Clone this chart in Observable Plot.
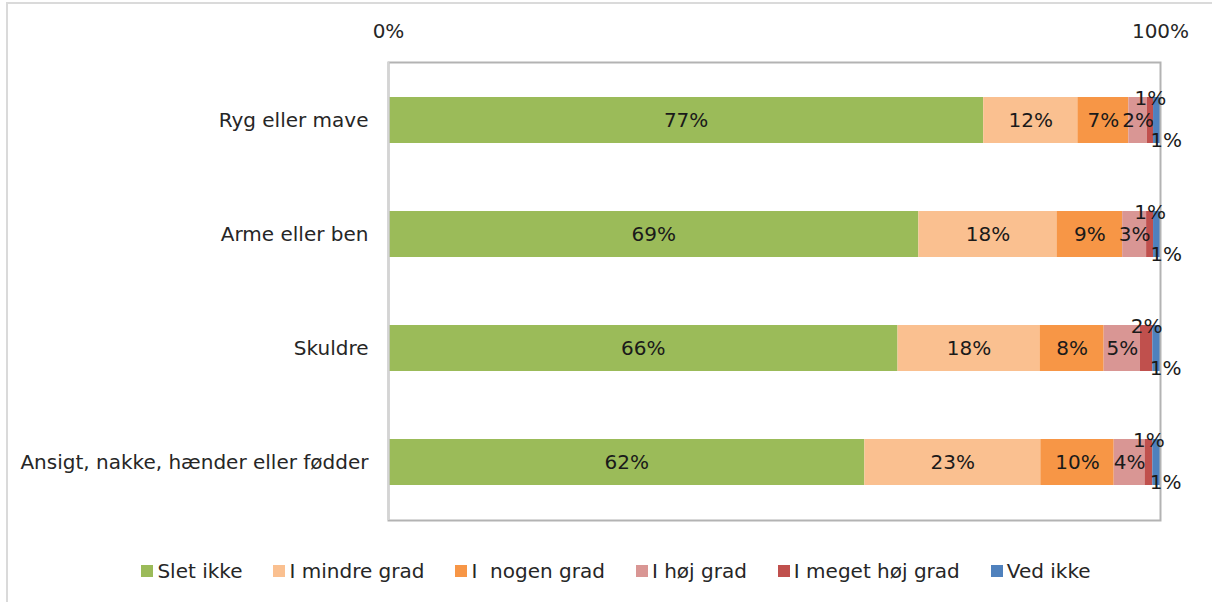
<!DOCTYPE html>
<html>
<head>
<meta charset="utf-8">
<script src="https://cdn.jsdelivr.net/npm/d3@7"></script>
<script src="https://cdn.jsdelivr.net/npm/@observablehq/plot@0.6"></script>
<style>
  html, body { margin: 0; padding: 0; background: #fff; }
  body { width: 1212px; height: 602px; overflow: hidden; position: relative; font-family: "DejaVu Sans", sans-serif; }
  #border { position: absolute; left: 6px; top: 2px; width: 1300px; height: 700px; border-left: 2px solid #dadada; border-top: 2px solid #dadada; }
  #chart { position: absolute; left: 0; top: 0; }
  #legend { position: absolute; left: 0; top: 559px; width: 1232px; display: flex; justify-content: center; gap: 31px; font-size: 20px; color: #262626; }
  .item { display: flex; align-items: center; gap: 4px; white-space: pre; }
  .sw { width: 12px; height: 12px; display: inline-block; }
</style>
</head>
<body>
<div id="border"></div>
<div id="chart"></div>
<div id="legend"></div>
<script>
const categories = ["Ryg eller mave", "Arme eller ben", "Skuldre", "Ansigt, nakke, hænder eller fødder"];
const series = ["Slet ikke", "I mindre grad", "I  nogen grad", "I høj grad", "I meget høj grad", "Ved ikke"];
const colors = ["#9bbb59", "#fac090", "#f79646", "#d99694", "#c0504d", "#4f81bd"];
// percentages per category, in series order
const rygEllerMave = [77.1, 12.2, 6.6, 2.4, 0.8, 0.9];
const armeEllerBen = [68.7, 17.9, 8.5, 3.1, 0.9, 0.9];
const skuldre = [66.0, 18.4, 8.3, 4.7, 1.6, 1.0];
const ansigtEtc = [61.7, 22.8, 9.5, 4.0, 1.0, 1.0];
const xTicks = [0, 100];

const rows = [rygEllerMave, armeEllerBen, skuldre, ansigtEtc];
const data = [];
rows.forEach((vals, i) => vals.forEach((v, j) => data.push({cat: categories[i], series: series[j], idx: j, value: v})));
const fmt = v => Math.round(v) + "%";

const chart = Plot.plot({
  width: 1212,
  height: 545,
  marginLeft: 388,
  marginRight: 52,
  marginTop: 62,
  marginBottom: 25,
  style: {fontFamily: "DejaVu Sans, sans-serif", fontSize: "20px", color: "#262626", background: "transparent"},
  x: {domain: [0, 100], axis: "top", ticks: xTicks, tickFormat: d => d + "%", tickSize: 0, tickPadding: 25, label: null},
  y: {domain: categories, paddingInner: 0.6, paddingOuter: 0.3, tickSize: 0, tickPadding: 20, label: null},
  color: {domain: series, range: colors},
  marks: [
    Plot.barX(data, Plot.stackX({x: "value", y: "cat", fill: "series", z: "series", order: series})),
    Plot.frame({stroke: "#b3b3b3", strokeWidth: 2}),
    Plot.ruleX([0], {stroke: "#d4d4d4", strokeWidth: 2}),
    Plot.text(data, Plot.stackX({x: "value", y: "cat", z: "series", order: series, text: d => d.idx < 4 ? fmt(d.value) : null, fill: "#1a1a1a", fontSize: 20})),
    Plot.text(data, Plot.stackX({x: "value", y: "cat", z: "series", order: series, text: d => d.idx === 4 ? fmt(d.value) : null, fill: "#1a1a1a", fontSize: 20, dy: -22})),
    Plot.text(data, Plot.stackX({x: "value", y: "cat", z: "series", order: series, text: d => d.idx === 5 ? fmt(d.value) : null, fill: "#1a1a1a", fontSize: 20, dy: 20, dx: 9}))
  ]
});
document.getElementById("chart").append(chart);

const legend = document.getElementById("legend");
series.forEach((s, i) => {
  const it = document.createElement("div");
  it.className = "item";
  const sw = document.createElement("span");
  sw.className = "sw";
  sw.style.background = colors[i];
  const t = document.createElement("span");
  t.textContent = s;
  it.append(sw, t);
  legend.append(it);
});
</script>
</body>
</html>
